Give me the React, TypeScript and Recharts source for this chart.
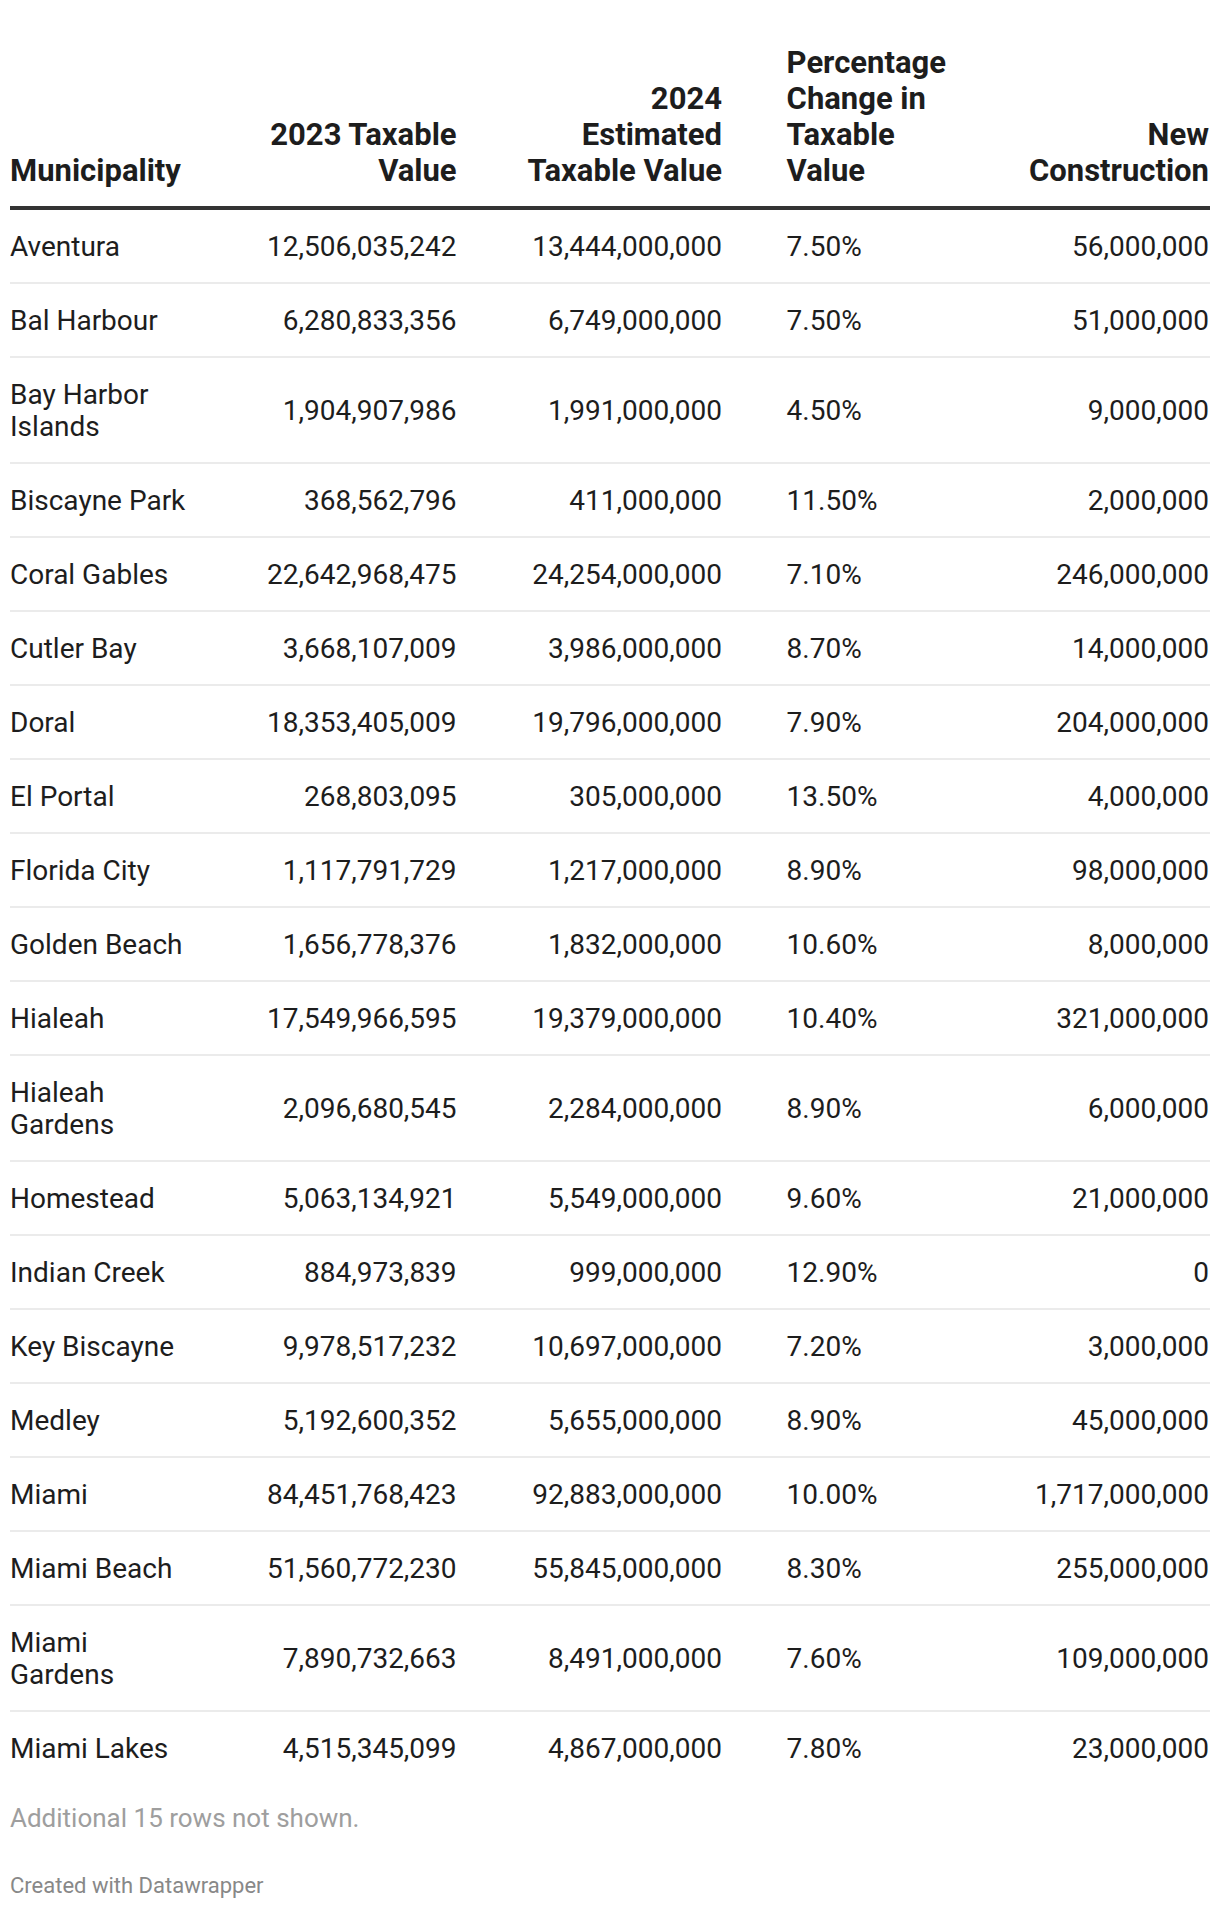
import { ScatterChart, Scatter, XAxis, YAxis, ReferenceLine } from 'recharts';

const FONT = 'Roboto, "Noto Sans", sans-serif';

// --- data ---
const municipalities = [
  'Aventura', 'Bal Harbour', 'Bay Harbor Islands', 'Biscayne Park', 'Coral Gables',
  'Cutler Bay', 'Doral', 'El Portal', 'Florida City', 'Golden Beach', 'Hialeah',
  'Hialeah Gardens', 'Homestead', 'Indian Creek', 'Key Biscayne', 'Medley', 'Miami',
  'Miami Beach', 'Miami Gardens', 'Miami Lakes',
];

const taxable2023 = [
  12506035242, 6280833356, 1904907986, 368562796, 22642968475,
  3668107009, 18353405009, 268803095, 1117791729, 1656778376, 17549966595,
  2096680545, 5063134921, 884973839, 9978517232, 5192600352, 84451768423,
  51560772230, 7890732663, 4515345099,
];

const estimated2024 = [
  13444000000, 6749000000, 1991000000, 411000000, 24254000000,
  3986000000, 19796000000, 305000000, 1217000000, 1832000000, 19379000000,
  2284000000, 5549000000, 999000000, 10697000000, 5655000000, 92883000000,
  55845000000, 8491000000, 4867000000,
];

const pctChange = [
  7.5, 7.5, 4.5, 11.5, 7.1, 8.7, 7.9, 13.5, 8.9, 10.6, 10.4,
  8.9, 9.6, 12.9, 7.2, 8.9, 10.0, 8.3, 7.6, 7.8,
];

const newConstruction = [
  56000000, 51000000, 9000000, 2000000, 246000000, 14000000, 204000000, 4000000,
  98000000, 8000000, 321000000, 6000000, 21000000, 0, 3000000, 45000000,
  1717000000, 255000000, 109000000, 23000000,
];

const headers = [
  ['Municipality'],
  ['2023 Taxable', 'Value'],
  ['2024', 'Estimated', 'Taxable Value'],
  ['Percentage', 'Change in', 'Taxable', 'Value'],
  ['New', 'Construction'],
];

// --- layout ---
const TABLE_W = 1200;
const colAnchors = [0, 446.6, 712, 776.6, 1199];
const colAlign: ('start' | 'end')[] = ['start', 'end', 'end', 'start', 'end'];
const FONT_SIZE = 28;
const HEAD_FONT_SIZE = 31;
const LINE_H = 32;
const HEAD_LINE_H = 36;
const PAD = 21;
const HEADER_H = 200;
const TEXT = '#1d1d1d';

let measureCtx: CanvasRenderingContext2D | null = null;
function measure(s: string) {
  if (!measureCtx) {
    try {
      measureCtx = document.createElement('canvas').getContext('2d');
    } catch (e) {
      measureCtx = null;
    }
  }
  if (!measureCtx) return s.length * 14;
  measureCtx.font = `${FONT_SIZE}px ${FONT}`;
  return measureCtx.measureText(s).width;
}

// wrap long names the way the first column does
function wrapName(name: string, maxW = 182) {
  const lines: string[] = [];
  let cur = '';
  for (const w of name.split(' ')) {
    const test = cur ? cur + ' ' + w : w;
    if (cur && measure(test) > maxW) {
      lines.push(cur);
      cur = w;
    } else {
      cur = test;
    }
  }
  lines.push(cur);
  return lines;
}

const fmt = (v: number) => v.toLocaleString('en-US');

let acc = 0;
const rows = municipalities.map((name, i) => {
  const nameLines = wrapName(name);
  const h = PAD * 2 + LINE_H * nameLines.length;
  const row = {
    y: acc + h / 2,
    end: acc + h,
    cells: [
      nameLines,
      [fmt(taxable2023[i])],
      [fmt(estimated2024[i])],
      [pctChange[i].toFixed(2) + '%'],
      [fmt(newConstruction[i])],
    ],
  };
  acc += h;
  return row;
});
const TOTAL_H = acc;

const makeCell = (col: number) => (props: any) => {
  const { cx, cy, payload } = props;
  const lines: string[] = payload.cells[col];
  const top = cy - ((lines.length - 1) * LINE_H) / 2;
  return (
    <text textAnchor={colAlign[col]} fontFamily={FONT} fontSize={FONT_SIZE} fill={TEXT}>
      {lines.map((l, i) => (
        <tspan key={i} x={cx} y={top + i * LINE_H} dy="0.355em">
          {l}
        </tspan>
      ))}
    </text>
  );
};

const HeaderTick = (props: any) => {
  const { x, y, payload } = props;
  const col = colAnchors.indexOf(payload.value);
  const lines = headers[col] || [];
  const lastBaseline = y - 25;
  return (
    <text
      textAnchor={colAlign[col]}
      fontFamily={FONT}
      fontSize={HEAD_FONT_SIZE}
      fontWeight={700}
      fill={TEXT}
    >
      {lines.map((l, i) => (
        <tspan key={i} x={x} y={lastBaseline - (lines.length - 1 - i) * HEAD_LINE_H}>
          {l}
        </tspan>
      ))}
    </text>
  );
};

export default function App() {
  return (
    <div style={{ marginLeft: 2, width: TABLE_W, fontFamily: FONT }}>
      <ScatterChart
        width={TABLE_W}
        height={HEADER_H + TOTAL_H + 1}
        margin={{ top: 0, right: 0, bottom: 0, left: 0 }}
      >
        <XAxis
          type="number"
          dataKey="x"
          orientation="top"
          domain={[0, TABLE_W]}
          allowDataOverflow
          ticks={colAnchors}
          interval={0}
          height={HEADER_H}
          tickSize={0}
          tickLine={false}
          axisLine={{ stroke: '#333333', strokeWidth: 4 }}
          tick={<HeaderTick />}
        />
        <YAxis
          type="number"
          dataKey="y"
          domain={[0, TOTAL_H]}
          reversed
          hide
          padding={{ top: 1, bottom: 0 }}
        />
        {rows.slice(0, -1).map((r, i) => (
          <ReferenceLine key={i} y={r.end} stroke="#ebebeb" strokeWidth={2} />
        ))}
        {colAnchors.map((anchor, col) => (
          <Scatter
            key={col}
            data={rows.map((r) => ({ ...r, x: anchor }))}
            shape={makeCell(col)}
            isAnimationActive={false}
          />
        ))}
      </ScatterChart>
      <div style={{ marginTop: 17, fontSize: 26, lineHeight: '32px', color: '#9e9e9e' }}>
        Additional 15 rows not shown.
      </div>
      <div style={{ marginTop: 39, fontSize: 22, lineHeight: '26px', color: '#888888' }}>
        Created with Datawrapper
      </div>
    </div>
  );
}
